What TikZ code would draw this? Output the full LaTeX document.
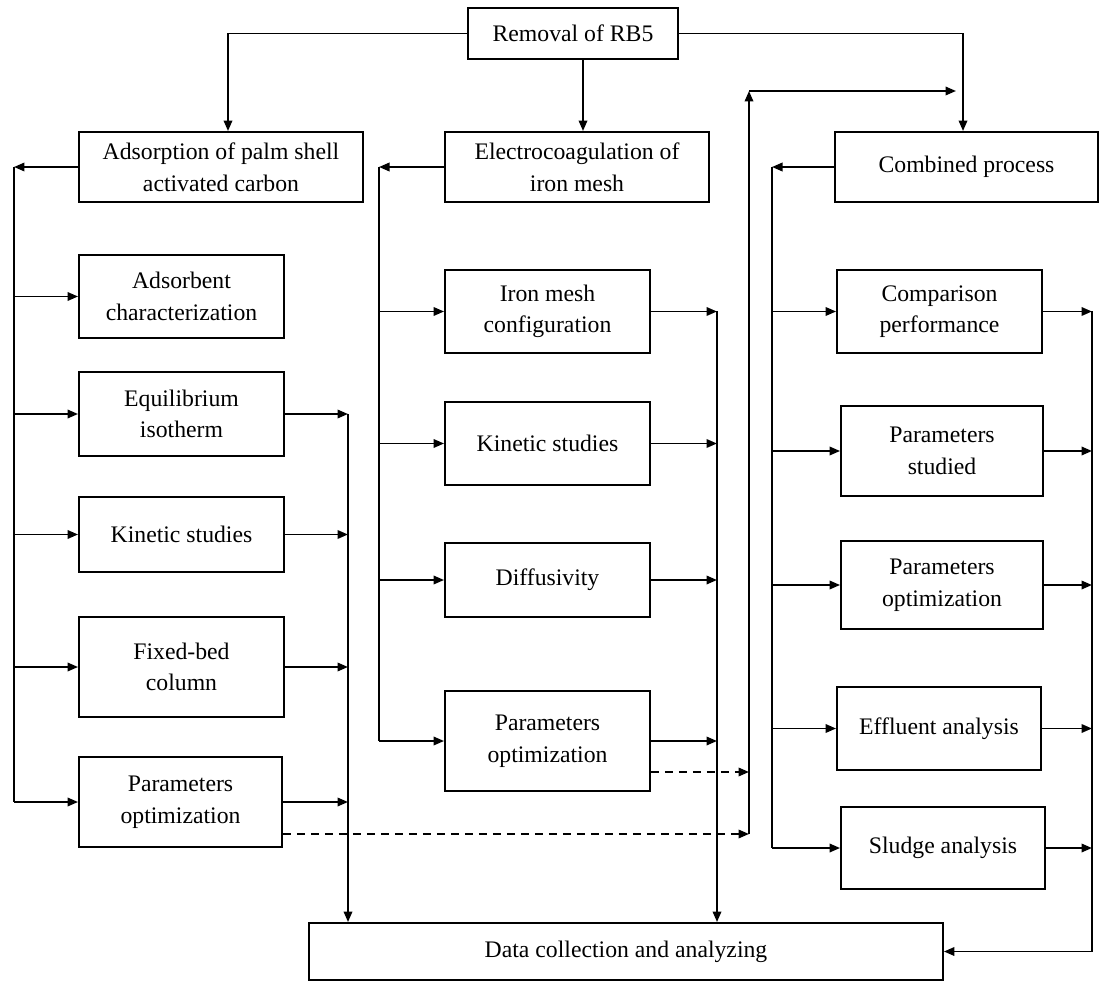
\documentclass[tikz,border=0pt]{standalone}
\usepackage{fontspec}
\setmainfont{Liberation Serif}
\usetikzlibrary{arrows.meta}

\begin{document}
\begin{tikzpicture}[x=0.02cm,y=-0.02cm,line width=1.1pt,
    >={Triangle[length=2.1mm,width=1.7mm]},
    box/.style={draw,align=center,inner sep=2pt,
      font=\fontsize{13.5pt}{18pt}\selectfont},
    fwd/.style={dash pattern=on 1.6mm off 1.2mm}]
    \useasboundingbox (0,0) rectangle (1104,982);

    % top level
    \node[box,minimum width=4.2cm,minimum height=1.02cm] (rb5) at (573,33.5) {Removal of RB5};
    \node[box,minimum width=5.68cm,minimum height=1.4cm] (ads) at (221,167) {Adsorption of palm shell\\activated carbon};
    \node[box,minimum width=5.28cm,minimum height=1.4cm] (ec) at (577,167) {Electrocoagulation of\\iron mesh};
    \node[box,minimum width=5.26cm,minimum height=1.4cm] (comb) at (966.5,167) {Combined process};

    % adsorption branch
    \node[box,minimum width=4.1cm,minimum height=1.66cm] (adchar) at (181.5,296.5) {Adsorbent\\characterization};
    \node[box,minimum width=4.1cm,minimum height=1.68cm] (equil) at (181.5,414) {Equilibrium\\isotherm};
    \node[box,minimum width=4.1cm,minimum height=1.5cm] (kinads) at (181.5,534.5) {Kinetic studies};
    \node[box,minimum width=4.1cm,minimum height=2cm] (fixbed) at (181.5,667) {Fixed-bed\\column};
    \node[box,minimum width=4.06cm,minimum height=1.8cm] (optads) at (180.5,802) {Parameters\\optimization};

    % electrocoagulation branch
    \node[box,minimum width=4.1cm,minimum height=1.66cm] (mesh) at (547.5,311.5) {Iron mesh\\configuration};
    \node[box,minimum width=4.1cm,minimum height=1.66cm] (kinec) at (547.5,443.5) {Kinetic studies};
    \node[box,minimum width=4.1cm,minimum height=1.48cm] (diff) at (547.5,580) {Diffusivity};
    \node[box,minimum width=4.1cm,minimum height=2cm] (optec) at (547.5,741) {Parameters\\optimization};

    % combined branch
    \node[box,minimum width=4.1cm,minimum height=1.66cm] (compar) at (939.5,311.5) {Comparison\\performance};
    \node[box,minimum width=4.04cm,minimum height=1.8cm] (studied) at (942,451) {Parameters\\studied};
    \node[box,minimum width=4.04cm,minimum height=1.76cm] (optcomb) at (942,585) {Parameters\\optimization};
    \node[box,minimum width=4.08cm,minimum height=1.66cm] (effl) at (939,728.5) {Effluent analysis};
    \node[box,minimum width=4.08cm,minimum height=1.64cm] (sludge) at (943,848) {Sludge analysis};

    \node[box,minimum width=12.68cm,minimum height=1.14cm] (data) at (626,951.5) {Data collection and analyzing};

    % bus lines
    \coordinate (lbus) at (14,0);
    \coordinate (lout) at (348,0);
    \coordinate (mbus) at (379,0);
    \coordinate (mout) at (717,0);
    \coordinate (fb) at (749,0);
    \coordinate (fbtop) at (749,91);
    \coordinate (fbend) at (956,91);
    \coordinate (rbus) at (772,0);
    \coordinate (rout) at (1092,0);

    % from the top box
    \draw[->] (rb5.west) -| ([xshift=0.14cm]ads.north);
    \draw[->] ([xshift=0.2cm]rb5.south) -- ([xshift=0.2cm]rb5.south |- ec.north);
    \draw[->] (rb5.east) -| ([xshift=-0.07cm]comb.north);

    % adsorption
    \draw[->] (ads.west) -- (ads.west -| lbus);
    \draw (ads.west -| lbus) -- (optads.west -| lbus);
    \foreach \n in {adchar,equil,kinads,fixbed,optads}
      \draw[->] (\n.west -| lbus) -- (\n.west);
    \foreach \n in {equil,kinads,fixbed,optads}
      \draw[->] (\n.east) -- (\n.east -| lout);
    \draw[->] (equil.east -| lout) -- (lout |- data.north);

    % electrocoagulation
    \draw[->] (ec.west) -- (ec.west -| mbus);
    \draw (ec.west -| mbus) -- (optec.west -| mbus);
    \foreach \n in {mesh,kinec,diff,optec}
      \draw[->] (\n.west -| mbus) -- (\n.west);
    \foreach \n in {mesh,kinec,diff,optec}
      \draw[->] (\n.east) -- (\n.east -| mout);
    \draw[->] (mesh.east -| mout) -- (mout |- data.north);

    % optimum conditions carried to combined process
    \draw[->,fwd] ([yshift=-0.64cm]optads.east) -- ([yshift=-0.64cm]optads.east -| fb);
    \draw[->,fwd] ([yshift=-0.62cm]optec.east) -- ([yshift=-0.62cm]optec.east -| fb);
    \draw[->] ([yshift=-0.64cm]optads.east -| fb) -- (fbtop);
    \draw[->] (fbtop) -- (fbend);

    % combined process
    \draw[->] (comb.west) -- (comb.west -| rbus);
    \draw (comb.west -| rbus) -- (sludge.west -| rbus);
    \foreach \n in {compar,studied,optcomb,effl,sludge}
      \draw[->] (\n.west -| rbus) -- (\n.west);
    \foreach \n in {compar,studied,optcomb,effl,sludge}
      \draw[->] (\n.east) -- (\n.east -| rout);
    \draw[->] (compar.east -| rout) |- (data.east);
  \end{tikzpicture}
\end{document}
